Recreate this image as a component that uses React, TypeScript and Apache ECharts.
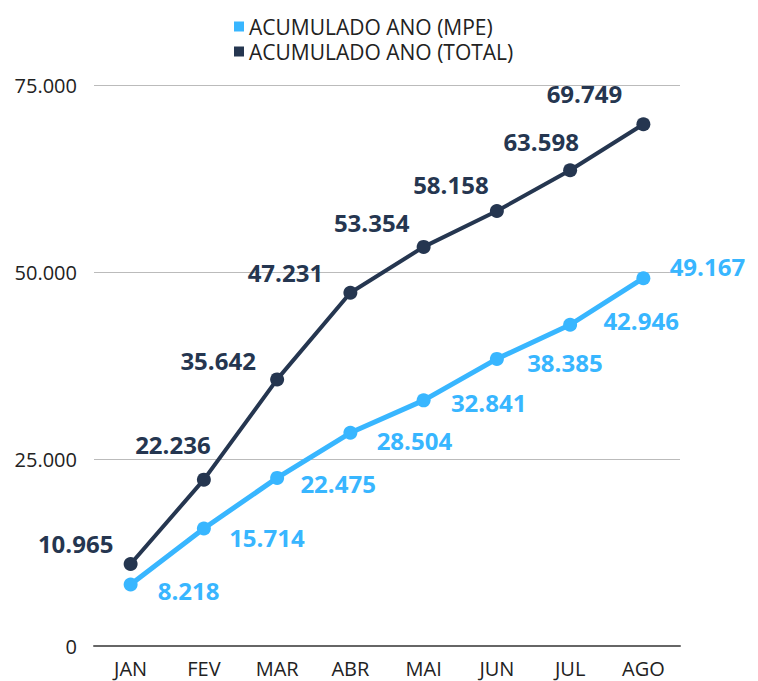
import React, { useEffect, useRef } from "react";
import * as echarts from "echarts";

const months = ["JAN", "FEV", "MAR", "ABR", "MAI", "JUN", "JUL", "AGO"];
const mpeValues = [8218, 15714, 22475, 28504, 32841, 38385, 42946, 49167];
const totalValues = [10965, 22236, 35642, 47231, 53354, 58158, 63598, 69749];
const yTicks = [0, 25000, 50000, 75000];

// label offsets (layout only)
const totalOffsets = [[-55, -20], [-31, -35], [-59, -19], [-65, -20], [-52, -24], [-46, -26], [-29, -29], [-59, -31]];
const mpeOffsets = [[58, 6], [63, 9], [61, 6], [64, 8], [65, 2], [68, 4], [71, -4], [64, -12]];

const fmt = (v: number) => v.toLocaleString("de-DE");
const FONT = "'Open Sans', 'Noto Sans', sans-serif";

export default function App() {
  const ref = useRef<HTMLDivElement>(null);
  useEffect(() => {
    if (!ref.current) return;
    document.body.style.margin = "0";
    document.body.style.overflow = "hidden";
    const chart = echarts.init(ref.current, null, { renderer: "svg" });
    const mkData = (vals: number[], offs: number[][]) =>
      vals.map((v, i) => ({
        value: v,
        label: { offset: offs[i] },
      }));
    chart.setOption({
      animation: false,
      textStyle: { fontFamily: FONT },
      legend: {
        orient: "vertical",
        left: 229,
        top: 11,
        itemWidth: 10,
        itemHeight: 10,
        itemGap: 4,
        icon: "rect",
        textStyle: { fontSize: 21, lineHeight: 21, color: "#222", fontFamily: FONT },
        data: ["ACUMULADO ANO (MPE)", "ACUMULADO ANO (TOTAL)"],
      },
      grid: { left: 94, right: 78, top: 85, bottom: 35, containLabel: false },
      xAxis: {
        type: "category",
        data: months,
        boundaryGap: true,
        axisTick: { show: false },
        axisLine: { lineStyle: { color: "#666", width: 2 } },
        axisLabel: { fontSize: 20, color: "#222", margin: 12, fontFamily: FONT },
      },
      yAxis: {
        type: "value",
        min: yTicks[0],
        max: yTicks[yTicks.length - 1],
        interval: 25000,
        axisLine: { show: false },
        axisTick: { show: false },
        splitLine: { lineStyle: { color: "#bbb", width: 1 } },
        axisLabel: {
          fontSize: 20,
          color: "#222",
          margin: 17,
          fontFamily: FONT,
          formatter: (v: number) => fmt(v),
        },
      },
      series: [
        {
          name: "ACUMULADO ANO (MPE)",
          type: "line",
          data: mkData(mpeValues, mpeOffsets),
          symbol: "circle",
          symbolSize: 14,
          itemStyle: { color: "#38B6FF" },
          lineStyle: { color: "#38B6FF", width: 5 },
          z: 3,
          label: {
            show: true,
            position: "inside",
            fontSize: 24,
            fontWeight: "bold",
            color: "#38B6FF",
            fontFamily: FONT,
            formatter: (p: any) => fmt(p.value),
          },
        },
        {
          name: "ACUMULADO ANO (TOTAL)",
          type: "line",
          data: mkData(totalValues, totalOffsets),
          symbol: "circle",
          symbolSize: 14,
          itemStyle: { color: "#253650" },
          lineStyle: { color: "#253650", width: 4 },
          z: 2,
          label: {
            show: true,
            position: "inside",
            fontSize: 24,
            fontWeight: "bold",
            color: "#253650",
            fontFamily: FONT,
            formatter: (p: any) => fmt(p.value),
          },
        },
      ],
    });
    return () => chart.dispose();
  }, []);
  return <div ref={ref} style={{ width: 758, height: 681 }} />;
}
